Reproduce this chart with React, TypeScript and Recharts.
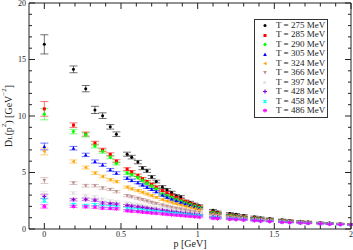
import { ScatterChart, Scatter, XAxis, YAxis, ErrorBar, Legend } from 'recharts';

// momentum grid [GeV]
const momenta = [0, 0.19, 0.27, 0.33, 0.38, 0.43, 0.47, 0.54, 0.57, 0.61, 0.64, 0.67, 0.7, 0.73, 0.77, 0.8, 0.83, 0.86, 0.89, 0.92, 0.95, 0.98, 1.01, 1.1, 1.13, 1.21, 1.25, 1.3, 1.37, 1.41, 1.47, 1.55, 1.6, 1.67, 1.72, 1.8, 1.86, 1.93, 2.0];

const temps = [275, 285, 290, 305, 324, 366, 397, 428, 458, 486];

// D_L(p^2) [GeV^-2]
const d275 = [16.34, 14.13, 12.42, 10.54, 10.03, 9.04, 8.39, 6.62, 6.36, 5.92, 5.39, 5.15, 4.6, 4.2, 3.72, 3.47, 3.23, 2.94, 2.85, 2.45, 2.35, 2.2, 2.05, 1.65, 1.5, 1.38, 1.3, 1.2, 1.08, 1.0, 0.92, 0.82, 0.76, 0.68, 0.63, 0.56, 0.52, 0.47, 0.43];
const d285 = [10.63, 9.19, 8.4, 7.6, 7.0, 6.6, 6.0, 5.3, 5.05, 4.75, 4.45, 4.2, 3.95, 3.7, 3.4, 3.2, 3.0, 2.8, 2.62, 2.45, 2.28, 2.12, 1.98, 1.5, 1.42, 1.25, 1.18, 1.1, 0.98, 0.93, 0.86, 0.77, 0.72, 0.66, 0.61, 0.55, 0.51, 0.46, 0.42];
const d290 = [10.16, 8.62, 8.33, 7.35, 6.86, 6.36, 5.8, 4.95, 4.8, 4.55, 4.3, 4.05, 3.8, 3.55, 3.1, 2.95, 2.8, 2.62, 2.48, 2.32, 2.18, 2.04, 1.9, 1.45, 1.38, 1.22, 1.15, 1.07, 0.96, 0.91, 0.85, 0.76, 0.71, 0.65, 0.6, 0.54, 0.5, 0.46, 0.42];
const d305 = [7.3, 7.15, 6.56, 5.97, 5.68, 5.24, 4.95, 4.5, 4.3, 4.1, 3.9, 3.7, 3.5, 3.3, 3.0, 2.82, 2.65, 2.5, 2.36, 2.22, 2.08, 1.95, 1.82, 1.4, 1.33, 1.18, 1.12, 1.04, 0.94, 0.89, 0.83, 0.74, 0.69, 0.63, 0.59, 0.53, 0.49, 0.45, 0.41];
const d324 = [6.86, 5.97, 5.44, 4.95, 4.65, 4.36, 4.2, 3.71, 3.55, 3.4, 3.25, 3.1, 2.95, 2.8, 2.6, 2.48, 2.36, 2.24, 2.13, 2.02, 1.92, 1.82, 1.72, 1.35, 1.28, 1.14, 1.08, 1.01, 0.91, 0.86, 0.8, 0.72, 0.67, 0.62, 0.58, 0.52, 0.48, 0.44, 0.4];
const d366 = [4.29, 4.06, 3.83, 3.83, 3.62, 3.5, 3.3, 2.95, 2.85, 2.72, 2.6, 2.48, 2.36, 2.25, 2.12, 2.02, 1.93, 1.84, 1.76, 1.68, 1.6, 1.53, 1.46, 1.22, 1.17, 1.06, 1.01, 0.95, 0.86, 0.82, 0.77, 0.69, 0.65, 0.6, 0.56, 0.51, 0.47, 0.43, 0.4];
const d397 = [3.12, 3.18, 2.95, 2.85, 2.65, 2.5, 2.4, 2.3, 2.24, 2.17, 2.1, 2.03, 1.96, 1.9, 1.82, 1.75, 1.69, 1.62, 1.56, 1.5, 1.44, 1.38, 1.33, 1.14, 1.1, 1.0, 0.96, 0.9, 0.82, 0.78, 0.73, 0.66, 0.62, 0.58, 0.54, 0.49, 0.46, 0.42, 0.39];
const d428 = [2.88, 2.6, 2.62, 2.55, 2.3, 2.24, 2.2, 2.08, 2.02, 1.96, 1.9, 1.84, 1.78, 1.72, 1.65, 1.59, 1.54, 1.49, 1.44, 1.39, 1.34, 1.29, 1.24, 1.07, 1.03, 0.95, 0.91, 0.86, 0.79, 0.75, 0.7, 0.64, 0.6, 0.56, 0.52, 0.48, 0.45, 0.41, 0.38];
const d458 = [2.53, 2.17, 2.08, 2.15, 2.0, 1.98, 1.95, 1.8, 1.76, 1.72, 1.68, 1.63, 1.59, 1.55, 1.5, 1.45, 1.41, 1.37, 1.33, 1.29, 1.25, 1.21, 1.17, 1.02, 0.98, 0.91, 0.88, 0.83, 0.76, 0.73, 0.68, 0.62, 0.58, 0.54, 0.51, 0.47, 0.44, 0.4, 0.37];
const d486 = [2.0, 2.0, 1.97, 1.94, 1.85, 1.82, 1.79, 1.62, 1.58, 1.55, 1.5, 1.46, 1.42, 1.39, 1.34, 1.3, 1.26, 1.23, 1.19, 1.16, 1.12, 1.09, 1.05, 0.95, 0.92, 0.86, 0.83, 0.79, 0.73, 0.7, 0.66, 0.6, 0.57, 0.53, 0.5, 0.46, 0.43, 0.4, 0.37];

// statistical errors
const e275 = [0.85, 0.3, 0.28, 0.32, 0.25, 0.2, 0.2, 0.18, 0.16, 0.15, 0.14, 0.14, 0.13, 0.12, 0.12, 0.11, 0.11, 0.1, 0.1, 0.1, 0.1, 0.09, 0.09, 0.08, 0.08, 0.07, 0.07, 0.07, 0.06, 0.06, 0.06, 0.05, 0.05, 0.05, 0.05, 0.04, 0.04, 0.04, 0.04];
const e285 = [0.65, 0.2, 0.18, 0.16, 0.15, 0.14, 0.13, 0.12, 0.12, 0.11, 0.11, 0.1, 0.1, 0.1, 0.09, 0.09, 0.09, 0.08, 0.08, 0.08, 0.08, 0.07, 0.07, 0.07, 0.06, 0.06, 0.06, 0.05, 0.05, 0.05, 0.05, 0.04, 0.04, 0.04, 0.04, 0.04, 0.03, 0.03, 0.03];
const e290 = [0.5, 0.2, 0.18, 0.17, 0.15, 0.14, 0.13, 0.12, 0.12, 0.11, 0.11, 0.1, 0.1, 0.1, 0.09, 0.09, 0.09, 0.08, 0.08, 0.08, 0.08, 0.07, 0.07, 0.07, 0.06, 0.06, 0.06, 0.05, 0.05, 0.05, 0.05, 0.04, 0.04, 0.04, 0.04, 0.04, 0.03, 0.03, 0.03];
const e305 = [0.3, 0.16, 0.15, 0.14, 0.13, 0.12, 0.12, 0.11, 0.11, 0.1, 0.1, 0.1, 0.09, 0.09, 0.09, 0.08, 0.08, 0.08, 0.08, 0.07, 0.07, 0.07, 0.07, 0.06, 0.06, 0.06, 0.05, 0.05, 0.05, 0.05, 0.04, 0.04, 0.04, 0.04, 0.04, 0.03, 0.03, 0.03, 0.03];
const e324 = [0.3, 0.14, 0.13, 0.12, 0.12, 0.11, 0.11, 0.1, 0.1, 0.1, 0.09, 0.09, 0.09, 0.08, 0.08, 0.08, 0.08, 0.07, 0.07, 0.07, 0.07, 0.06, 0.06, 0.06, 0.06, 0.05, 0.05, 0.05, 0.05, 0.04, 0.04, 0.04, 0.04, 0.04, 0.03, 0.03, 0.03, 0.03, 0.03];
const e366 = [0.25, 0.12, 0.12, 0.11, 0.11, 0.1, 0.1, 0.1, 0.09, 0.09, 0.09, 0.08, 0.08, 0.08, 0.08, 0.07, 0.07, 0.07, 0.07, 0.06, 0.06, 0.06, 0.06, 0.05, 0.05, 0.05, 0.05, 0.04, 0.04, 0.04, 0.04, 0.04, 0.03, 0.03, 0.03, 0.03, 0.03, 0.03, 0.03];
const e397 = [0.2, 0.12, 0.11, 0.11, 0.1, 0.1, 0.1, 0.09, 0.09, 0.09, 0.08, 0.08, 0.08, 0.08, 0.07, 0.07, 0.07, 0.07, 0.06, 0.06, 0.06, 0.06, 0.06, 0.05, 0.05, 0.05, 0.05, 0.04, 0.04, 0.04, 0.04, 0.04, 0.03, 0.03, 0.03, 0.03, 0.03, 0.03, 0.03];
const e428 = [0.2, 0.11, 0.11, 0.1, 0.1, 0.1, 0.09, 0.09, 0.09, 0.08, 0.08, 0.08, 0.08, 0.07, 0.07, 0.07, 0.07, 0.06, 0.06, 0.06, 0.06, 0.06, 0.05, 0.05, 0.05, 0.05, 0.04, 0.04, 0.04, 0.04, 0.04, 0.03, 0.03, 0.03, 0.03, 0.03, 0.03, 0.03, 0.03];
const e458 = [0.2, 0.1, 0.1, 0.1, 0.1, 0.09, 0.09, 0.09, 0.08, 0.08, 0.08, 0.08, 0.07, 0.07, 0.07, 0.07, 0.06, 0.06, 0.06, 0.06, 0.06, 0.05, 0.05, 0.05, 0.05, 0.05, 0.04, 0.04, 0.04, 0.04, 0.04, 0.03, 0.03, 0.03, 0.03, 0.03, 0.03, 0.03, 0.03];
const e486 = [0.15, 0.1, 0.1, 0.1, 0.09, 0.09, 0.09, 0.08, 0.08, 0.08, 0.08, 0.07, 0.07, 0.07, 0.07, 0.06, 0.06, 0.06, 0.06, 0.06, 0.05, 0.05, 0.05, 0.05, 0.05, 0.04, 0.04, 0.04, 0.04, 0.04, 0.03, 0.03, 0.03, 0.03, 0.03, 0.03, 0.03, 0.03, 0.03];

const xTicks = [0, 0.1, 0.2, 0.3, 0.4, 0.5, 0.6, 0.7, 0.8, 0.9, 1, 1.1, 1.2, 1.3, 1.4, 1.5, 1.6, 1.7, 1.8, 1.9, 2];
const yTicks = [0, 1, 2, 3, 4, 5, 6, 7, 8, 9, 10, 11, 12, 13, 14, 15, 16, 17, 18, 19, 20];

const values = [d275, d285, d290, d305, d324, d366, d397, d428, d458, d486];
const errors = [e275, e285, e290, e305, e324, e366, e397, e428, e458, e486];
const colors = ['#000000', '#ff0000', '#00ff00', '#0000ff', '#ffa500', '#bc8f8f', '#dcdcdc', '#9400d3', '#00ffff', '#ff00ff'];
const symbols = ['circle', 'square', 'diamond', 'up', 'left', 'down', 'right', 'plus', 'cross', 'star'];

const series = temps.map((t, k) => ({
  name: `T = ${t} MeV`,
  color: colors[k],
  symbol: symbols[k],
  data: momenta.map((p, i) => ({ p, d: values[k][i], err: errors[k][i] })),
}));

const FONT = '"Liberation Serif", "DejaVu Serif", serif';

const Sym = ({ cx, cy, kind, color }: any) => {
  const r = 1.5;
  switch (kind) {
    case 'circle':
      return <circle cx={cx} cy={cy} r={r} fill={color} />;
    case 'square':
      return <rect x={cx - r} y={cy - r} width={2 * r} height={2 * r} fill={color} />;
    case 'diamond':
      return <polygon points={`${cx},${cy - r - 0.5} ${cx + r + 0.5},${cy} ${cx},${cy + r + 0.5} ${cx - r - 0.5},${cy}`} fill={color} />;
    case 'up':
      return <polygon points={`${cx},${cy - r - 0.4} ${cx + r + 0.3},${cy + r} ${cx - r - 0.3},${cy + r}`} fill={color} />;
    case 'down':
      return <polygon points={`${cx},${cy + r + 0.4} ${cx + r + 0.3},${cy - r} ${cx - r - 0.3},${cy - r}`} fill={color} />;
    case 'left':
      return <polygon points={`${cx - r - 0.4},${cy} ${cx + r},${cy - r - 0.3} ${cx + r},${cy + r + 0.3}`} fill={color} />;
    case 'right':
      return <polygon points={`${cx + r + 0.4},${cy} ${cx - r},${cy - r - 0.3} ${cx - r},${cy + r + 0.3}`} fill={color} />;
    case 'plus':
      return <path d={`M${cx - r - 0.5},${cy}H${cx + r + 0.5}M${cx},${cy - r - 0.5}V${cy + r + 0.5}`} stroke={color} strokeWidth={1.2} />;
    case 'cross':
      return <path d={`M${cx - r},${cy - r}L${cx + r},${cy + r}M${cx - r},${cy + r}L${cx + r},${cy - r}`} stroke={color} strokeWidth={1.2} />;
    default:
      return (
        <path
          d={`M${cx - r - 0.5},${cy}H${cx + r + 0.5}M${cx},${cy - r - 0.5}V${cy + r + 0.5}M${cx - r},${cy - r}L${cx + r},${cy + r}M${cx - r},${cy + r}L${cx + r},${cy - r}`}
          stroke={color}
          strokeWidth={1}
        />
      );
  }
};

const isMajorX = (v: number) => Math.abs(v * 2 - Math.round(v * 2)) < 1e-6;

const BottomTick = ({ x, y, payload }: any) => {
  const major = isMajorX(payload.value);
  return (
    <g>
      <line x1={x} x2={x} y1={y - 2} y2={y - 2 - (major ? 6 : 3.5)} stroke="#222" strokeWidth={1} />
      {major && (
        <text x={x} y={y + 6} textAnchor="middle" fontSize={8} fontFamily={FONT} fill="#222">
          {payload.value}
        </text>
      )}
    </g>
  );
};

const TopTick = ({ x, y, payload }: any) => {
  const major = isMajorX(payload.value);
  return <line x1={x} x2={x} y1={y} y2={y + (major ? 6 : 3.5)} stroke="#222" strokeWidth={1} />;
};

const LeftTick = ({ x, y, payload }: any) => {
  const major = payload.value % 5 === 0;
  return (
    <g>
      <line x1={x + 3} x2={x + 3 + (major ? 6 : 3)} y1={y} y2={y} stroke="#222" strokeWidth={1} />
      {major && (
        <text x={x} y={y + 2.8} textAnchor="end" fontSize={8} fontFamily={FONT} fill="#222">
          {payload.value}
        </text>
      )}
    </g>
  );
};

const RightTick = ({ x, y, payload }: any) => {
  const major = payload.value % 5 === 0;
  return <line x1={x} x2={x - (major ? 6 : 3)} y1={y} y2={y} stroke="#222" strokeWidth={1} />;
};

const YLabel = ({ viewBox }: any) => {
  const cx = 8;
  const cy = viewBox.y + viewBox.height / 2;
  return (
    <text
      transform={`rotate(-90 ${cx} ${cy})`}
      x={cx}
      y={cy}
      textAnchor="middle"
      dominantBaseline="central"
      fontSize={10}
      fontFamily={FONT}
      fill="#222"
    >
      D<tspan fontSize={7} dy={2}>L</tspan>
      <tspan dy={-2}>(p</tspan>
      <tspan fontSize={7} dy={-4}>2</tspan>
      <tspan dy={4}>) [GeV</tspan>
      <tspan fontSize={7} dy={-4}>−2</tspan>
      <tspan dy={4}>]</tspan>
    </text>
  );
};

const XLabel = ({ viewBox }: any) => (
  <text x={viewBox.x + viewBox.width / 2} y={viewBox.y + 17.5} textAnchor="middle" fontSize={10} fontFamily={FONT} fill="#222">
    p [GeV]
  </text>
);

const LegendBox = () => (
  <div
    style={{
      width: 72,
      height: 96,
      border: '1px solid #333',
      background: '#fff',
      paddingTop: 1,
      boxSizing: 'content-box',
      fontFamily: FONT,
      fontSize: 9,
      color: '#222',
    }}
  >
    {series.map((s) => (
      <div key={s.name} style={{ height: 9.44, lineHeight: '9.44px', display: 'flex', alignItems: 'center', whiteSpace: 'nowrap' }}>
        <svg width={20} height={9} style={{ flex: 'none' }}>
          <Sym cx={10} cy={4.5} kind={s.symbol} color={s.color} />
        </svg>
        <span style={{ marginLeft: 1 }}>{s.name}</span>
      </div>
    ))}
  </div>
);

export default function App() {
  return (
    <div style={{ position: 'absolute', left: 0, top: 0 }}>
      <ScatterChart width={353} height={250} margin={{ top: 0, right: 0, bottom: 0, left: 0 }}>
        <XAxis
          dataKey="p"
          type="number"
          domain={[-0.1, 2]}
          allowDataOverflow
          ticks={xTicks}
          interval={0}
          height={21}
          tickSize={0}
          tickMargin={2}
          tick={<BottomTick />}
          axisLine={{ stroke: '#222' }}
          label={<XLabel />}
        />
        <XAxis
          xAxisId="top"
          orientation="top"
          dataKey="p"
          type="number"
          domain={[-0.1, 2]}
          allowDataOverflow
          ticks={xTicks}
          interval={0}
          height={3}
          tickSize={0}
          tickMargin={0}
          tick={<TopTick />}
          axisLine={{ stroke: '#222' }}
        />
        <YAxis
          dataKey="d"
          type="number"
          domain={[0, 20]}
          allowDataOverflow
          ticks={yTicks}
          interval={0}
          width={29}
          tickSize={0}
          tickMargin={3}
          tick={<LeftTick />}
          axisLine={{ stroke: '#222' }}
          label={<YLabel />}
        />
        <YAxis
          yAxisId="right"
          orientation="right"
          dataKey="d"
          type="number"
          domain={[0, 20]}
          allowDataOverflow
          ticks={yTicks}
          interval={0}
          width={2}
          tickSize={0}
          tickMargin={0}
          tick={<RightTick />}
          axisLine={{ stroke: '#222' }}
        />
        <Legend
          layout="vertical"
          align="center"
          verticalAlign="middle"
          content={<LegendBox />}
          wrapperStyle={{ position: 'absolute', left: 254, top: 19, width: 74 }}
        />
        {series.map((s) => (
          <Scatter
            key={s.name}
            name={s.name}
            data={s.data}
            fill={s.color}
            isAnimationActive={false}
            shape={(props: any) => <Sym cx={props.cx} cy={props.cy} kind={s.symbol} color={s.color} />}
          >
            <ErrorBar dataKey="err" direction="y" width={4} stroke={s.color} strokeOpacity={0.55} strokeWidth={1} isAnimationActive={false} />
          </Scatter>
        ))}
      </ScatterChart>
    </div>
  );
}
